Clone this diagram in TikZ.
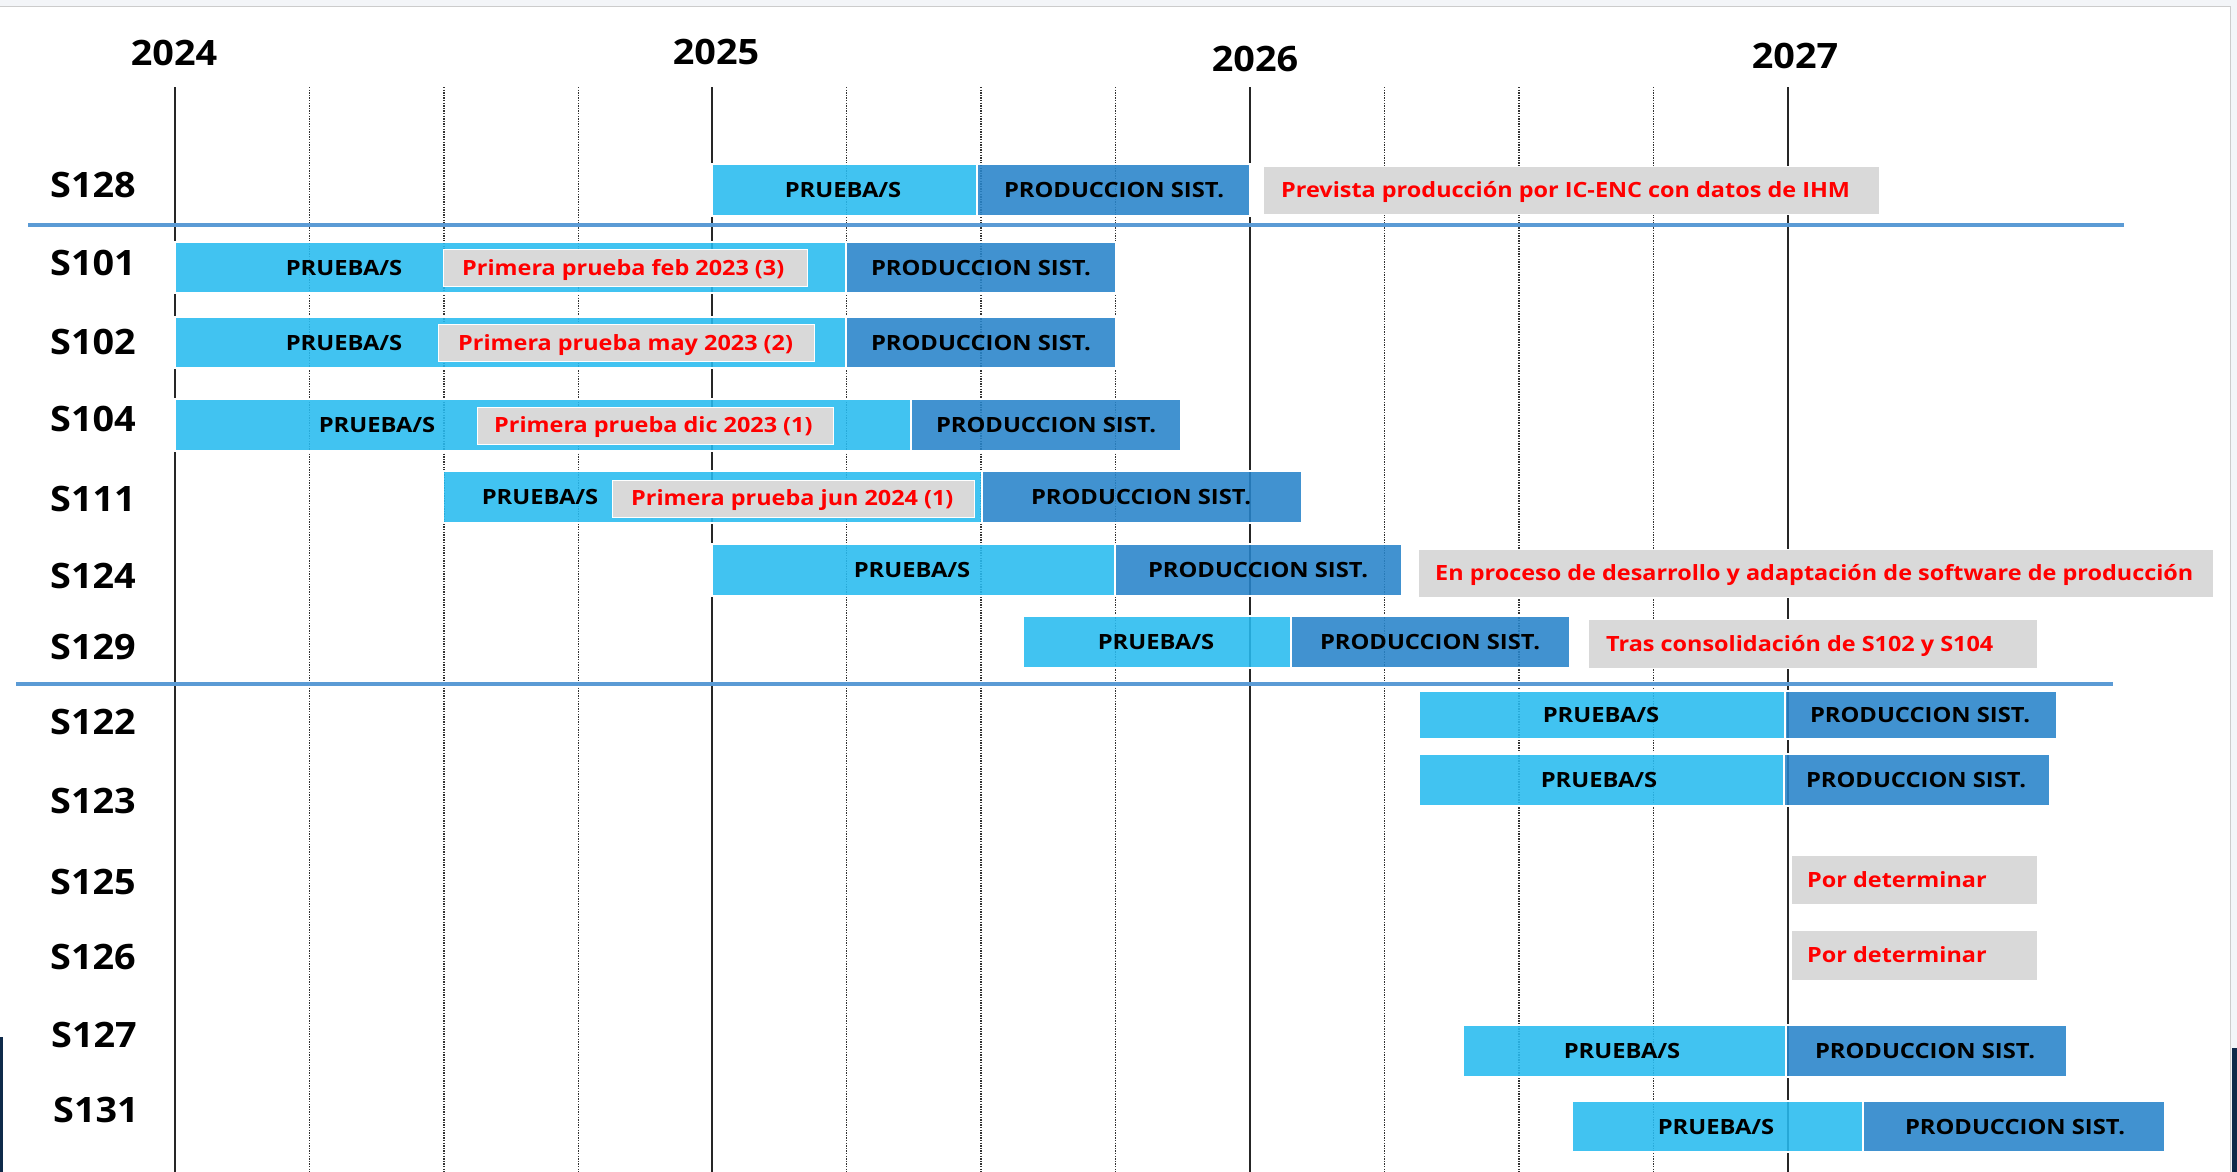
\documentclass[tikz,border=0pt]{standalone}
\usepackage{fontspec}
\setmainfont{Open Sans}
\newfontfamily\barfont{Open Sans}[FakeStretch=1.13]
\newfontfamily\redfont{Open Sans}[FakeStretch=1.115]
\newfontfamily\lblfont{Open Sans}[FakeStretch=1.08]
\definecolor{lblue}{HTML}{27BBF0}
\definecolor{dblue}{HTML}{2784CA}
\definecolor{gbox}{HTML}{D9D9D9}
\definecolor{sepc}{HTML}{5B9BD5}
\definecolor{redt}{HTML}{FF0000}
\definecolor{navy}{HTML}{0F2A4A}
\definecolor{edge}{HTML}{F3F5F8}
\tikzset{
 pbar/.style={fill=lblue, fill opacity=0.88, draw=white, line width=1.5pt},
 dbar/.style={fill=dblue, fill opacity=0.88, draw=white, line width=1.5pt},
 gboxs/.style={fill=gbox, draw=white, line width=1pt},
 btxt/.style={font=\barfont\fontsize{21}{24}\selectfont\bfseries, anchor=base, inner sep=0pt},
 rtxt/.style={font=\redfont\fontsize{21}{24}\selectfont\bfseries, text=redt, anchor=base west, inner sep=0pt},
 lbl/.style={font=\lblfont\fontsize{35}{40}\selectfont\bfseries, anchor=base, inner sep=0pt},
 solidgrid/.style={line width=2pt, draw=black!85},
 dotgrid/.style={line width=1.5pt, draw=black!80, dash pattern=on 1.3pt off 1.3pt},
 sepline/.style={draw=sepc, line width=4pt},
}
\newcommand\gtask[5]{%
  \path[pbar] (#3,#1) rectangle (#4,#2);
  \path[dbar] (#4,#1) rectangle (#5,#2);}
\newcommand\gnote[4]{\path[gboxs] (#3,#1) rectangle (#4,#2);}
\begin{document}
\begin{tikzpicture}[x=1pt, y={(0pt,-1pt)}]
\useasboundingbox (0,0) rectangle (2237,1172);
\fill[white] (0,0) rectangle (2237,1172);
% frame
\fill[edge] (0,0) rectangle (2237,7);
\fill[edge] (2230,7) rectangle (2237,1172);
\draw[black!20, line width=1pt] (0,7) -- (2230,7) -- (2230,1172);
\fill[navy] (0,1037) rectangle (3,1172);
\fill[navy] (2232,1048) rectangle (2237,1172);
% grid
\foreach \x in {175,712,1250,1788} {\draw[solidgrid] (\x,87) -- (\x,1172);}
\foreach \x in {309.5,444,578.5,846.5,981,1115.5,1384.5,1519,1653.5} {\draw[dotgrid] (\x,87) -- (\x,1172);}
% separators
\coordinate (sepAw) at (28,225); \coordinate (sepAe) at (2124,225);
\coordinate (sepBw) at (16,684); \coordinate (sepBe) at (2113,684);
\draw[sepline] (sepAw) -- (sepAe);
\draw[sepline] (sepBw) -- (sepBe);
% years
\node[lbl] (y2024) at (174,66) {2024};
\node[lbl] (y2025) at (716,65) {2025};
\node[lbl] (y2026) at (1255,71) {2026};
\node[lbl] (y2027) at (1795,69) {2027};
% row labels
\node[lbl] (l128) at (93,197) {S128};
\node[lbl] (l101) at (93,275) {S101};
\node[lbl] (l102) at (93,354.5) {S102};
\node[lbl] (l104) at (93,431.5) {S104};
\node[lbl] (l111) at (93,511.5) {S111};
\node[lbl] (l124) at (93,588.5) {S124};
\node[lbl] (l129) at (93,659) {S129};
\node[lbl] (l122) at (93,734.5) {S122};
\node[lbl] (l123) at (93,813) {S123};
\node[lbl] (l125) at (93,894.5) {S125};
\node[lbl] (l126) at (93,969.5) {S126};
\node[lbl] (l127) at (94,1047.5) {S127};
\node[lbl] (l131) at (96,1122.5) {S131};
% S128
\gtask{164}{216}{712}{977}{1250}
\gnote{166}{214}{1263}{1879}
\node[btxt] (t128p) at (843,197.5) {PRUEBA/S};
\node[btxt] (t128d) at (1114,197.5) {PRODUCCION SIST.};
\node[rtxt] (t128r) at (1281,197.5) {Prevista producción por IC-ENC con datos de IHM};
% S101
\gtask{242}{293}{175}{846}{1116}
\gnote{249}{286}{443}{807}
\node[btxt] (t101p) at (344,275) {PRUEBA/S};
\node[btxt] (t101d) at (981,275) {PRODUCCION SIST.};
\node[rtxt] (t101r) at (462,275) {Primera prueba feb 2023 (3)};
% S102
\gtask{317}{368}{175}{846}{1116}
\gnote{324}{361}{438}{814}
\node[btxt] (t102p) at (344,350) {PRUEBA/S};
\node[btxt] (t102d) at (981,350) {PRODUCCION SIST.};
\node[rtxt] (t102r) at (458,350) {Primera prueba may 2023 (2)};
% S104
\gtask{399}{451}{175}{911}{1181}
\gnote{407}{444}{477}{833}
\node[btxt] (t104p) at (377,432.5) {PRUEBA/S};
\node[btxt] (t104d) at (1046,432.5) {PRODUCCION SIST.};
\node[rtxt] (t104r) at (494,432.5) {Primera prueba dic 2023 (1)};
% S111
\gtask{471}{523}{443}{982}{1302}
\gnote{480}{517}{612}{974}
\node[btxt] (t111p) at (540,504.5) {PRUEBA/S};
\node[btxt] (t111d) at (1141,504.5) {PRODUCCION SIST.};
\node[rtxt] (t111r) at (631,505.5) {Primera prueba jun 2024 (1)};
% S124
\gtask{544}{596}{712}{1115}{1402}
\gnote{549}{597}{1418}{2213}
\node[btxt] (t124p) at (912,577.5) {PRUEBA/S};
\node[btxt] (t124d) at (1258,577.5) {PRODUCCION SIST.};
\node[rtxt] (t124r) at (1435,580.5) {En proceso de desarrollo y adaptación de software de producción};
% S129
\gtask{616}{668}{1023}{1291}{1570}
\gnote{619}{668}{1588}{2037}
\node[btxt] (t129p) at (1156,649.5) {PRUEBA/S};
\node[btxt] (t129d) at (1430,649.5) {PRODUCCION SIST.};
\node[rtxt] (t129r) at (1606,651) {Tras consolidación de S102 y S104};
% S122
\gtask{691}{739}{1419}{1785}{2057}
\node[btxt] (t122p) at (1601,722.5) {PRUEBA/S};
\node[btxt] (t122d) at (1920,722.5) {PRODUCCION SIST.};
% S123
\gtask{754}{806}{1419}{1784}{2050}
\node[btxt] (t123p) at (1599,787.5) {PRUEBA/S};
\node[btxt] (t123d) at (1916,787.5) {PRODUCCION SIST.};
% S125, S126
\gnote{855}{904}{1791}{2037}
\node[rtxt] (t125r) at (1807,887) {Por determinar};
\gnote{930}{980}{1791}{2037}
\node[rtxt] (t126r) at (1807,962.5) {Por determinar};
% S127
\gtask{1025}{1077}{1463}{1786}{2067}
\node[btxt] (t127p) at (1622,1058.5) {PRUEBA/S};
\node[btxt] (t127d) at (1925,1058.5) {PRODUCCION SIST.};
% S131
\gtask{1101}{1152}{1572}{1863}{2165}
\node[btxt] (t131p) at (1716,1134) {PRUEBA/S};
\node[btxt] (t131d) at (2015,1134) {PRODUCCION SIST.};
\end{tikzpicture}
\end{document}
